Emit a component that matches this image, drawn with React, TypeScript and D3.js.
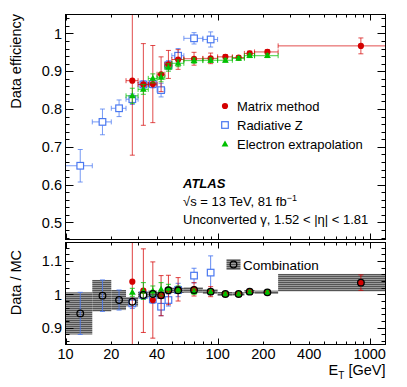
import React from "react";
import * as d3 from "d3";

// ET bins [GeV]
const binLo = [10, 15, 20, 25, 30, 35, 40, 45, 50, 60, 80, 100, 125, 150, 175, 250];
const binHi = [15, 20, 25, 30, 35, 40, 45, 50, 60, 80, 100, 125, 150, 175, 250, 1500];

// Top panel: data efficiency
// Matrix method: bins 3..15
const mmFirst = 3;
const mmEff = [0.875, 0.865, 0.866, 0.892, 0.918, 0.931, 0.933, 0.934, 0.938, 0.936, 0.947, 0.951, 0.967];
const mmErr = [0.197, 0.108, 0.102, 0.046, 0.037, 0.026, 0.017, 0.014, 0.006, 0.005, 0.006, 0.006, 0.021];
// Radiative Z: bins 0..10
const rzFirst = 0;
const rzEff = [0.650, 0.766, 0.802, 0.826, 0.865, 0.866, 0.850, 0.916, 0.941, 0.987, 0.984];
const rzErr = [0.043, 0.034, 0.022, 0.014, 0.010, 0.010, 0.018, 0.012, 0.019, 0.015, 0.020];
// Electron extrapolation: bins 3..14
const eeFirst = 3;
const eeEff = [0.835, 0.852, 0.881, 0.884, 0.910, 0.921, 0.928, 0.929, 0.929, 0.934, 0.941, 0.941];
const eeErr = [0.020, 0.013, 0.012, 0.012, 0.010, 0.009, 0.007, 0.006, 0.005, 0.005, 0.005, 0.005];

// Bottom panel: Data / MC
const combR = [0.943, 0.996, 0.983, 0.978, 0.998, 1.001, 0.997, 1.012, 1.012, 1.013, 1.008, 1.001, 1.001, 1.008, 1.006, 1.035];
const combErr = [0.063, 0.047, 0.030, 0.014, 0.010, 0.010, 0.010, 0.009, 0.008, 0.008, 0.007, 0.006, 0.005, 0.005, 0.005, 0.026];
const mmR = [1.038, 1.011, 0.983, 0.996, 1.013, 1.015, 1.015, 1.008, 1.001, 1.001, 1.008, 1.006, 1.035];
const mmRErr = [0.25, 0.125, 0.114, 0.06, 0.044, 0.035, 0.02, 0.015, 0.007, 0.006, 0.006, 0.006, 0.023];
const rzR = [0.943, 0.996, 0.983, 0.973, 0.998, 0.985, 0.963, 0.983, 1.013, 1.056, 1.065];
const rzRErr = [0.063, 0.047, 0.030, 0.015, 0.012, 0.012, 0.027, 0.018, 0.020, 0.022, 0.050];
const rzRMarkerFrom = 3; // below this only the combination marker is shown
const eeR = [1.006, 1.010, 1.010, 1.015, 1.018, 1.015, 1.008, 1.008, 1.001, 1.001, 1.006, 1.006];
const eeRErr = [0.012, 0.025, 0.015, 0.020, 0.012, 0.010, 0.008, 0.007, 0.006, 0.006, 0.006, 0.006];

const xLabelTicks = [10, 20, 40, 100, 200, 400, 1000];
const yTopLabels = [0.5, 0.6, 0.7, 0.8, 0.9, 1];
const yBotLabels = [0.9, 1, 1.1];

const RED = "#d40000";
const BLUE = "#4a78f0";
const GREEN = "#00c000";
const FONT = "'Liberation Sans', Arial, Helvetica, sans-serif";

const L = 65.5, R = 385.5;
const T1 = 14.5, B1 = 239.5, T2 = 242.5, B2 = 344.5;

const x = d3.scaleLog().domain([10, 1270]).range([L, R]);
const y1 = d3.scaleLinear().domain([0.455, 1.05]).range([B1, T1]);
const y2 = d3.scaleLinear().domain([0.85, 1.155]).range([B2, T2]);

const center = (i: number) => (binLo[i] + binHi[i]) / 2;

function ErrBar({ i, v, e, y, color, xerr, cap = 2.5, sw = 1, op = 0.8 }: any) {
  const cx = x(center(i));
  const cy = y(v);
  const ya = y(v + e), yb = y(v - e);
  const x0 = x(binLo[i]), x1 = x(binHi[i]);
  return (
    <g stroke={color} strokeWidth={sw} fill="none" strokeOpacity={op}>
      <line x1={cx} x2={cx} y1={ya} y2={yb} />
      <line x1={cx - cap} x2={cx + cap} y1={ya} y2={ya} />
      <line x1={cx - cap} x2={cx + cap} y1={yb} y2={yb} />
      {xerr && (
        <>
          <line x1={x0} x2={x1} y1={cy} y2={cy} />
          <line x1={x0} x2={x0} y1={cy - cap} y2={cy + cap} />
          <line x1={x1} x2={x1} y1={cy - cap} y2={cy + cap} />
        </>
      )}
    </g>
  );
}

const Circle = ({ cx, cy }: any) => <circle cx={cx} cy={cy} r={3.1} fill={RED} />;
const Square = ({ cx, cy }: any) => (
  <rect x={cx - 3.3} y={cy - 3.3} width={6.6} height={6.6} fill="white" stroke={BLUE} strokeWidth={1.2} />
);
const Tri = ({ cx, cy }: any) => (
  <path d={`M${cx},${cy - 3.6}L${cx + 3.4},${cy + 2.4}L${cx - 3.4},${cy + 2.4}Z`} fill={GREEN} />
);

function XTicks({ top, bottom }: any) {
  const ticks: number[] = [];
  for (const d of [10, 100, 1000]) for (let k = 1; k <= 9; k++) if (d * k <= 1270) ticks.push(d * k);
  return (
    <g stroke="#000" strokeWidth={1}>
      {ticks.map((t) => {
        const len = [10, 100, 1000].includes(t) ? 6 : 3;
        const px = Math.round(x(t)) + 0.5;
        return (
          <g key={t}>
            <line x1={px} x2={px} y1={bottom} y2={bottom - len} />
            <line x1={px} x2={px} y1={top} y2={top + len} />
          </g>
        );
      })}
    </g>
  );
}

function YTicks({ y, lo, hi }: any) {
  const ticks: number[] = [];
  for (let k = Math.round(lo * 50); k <= Math.round(hi * 50); k++) ticks.push(k / 50);
  return (
    <g stroke="#000" strokeWidth={1}>
      {ticks.map((t) => {
        const major = Math.abs(t * 10 - Math.round(t * 10)) < 1e-6;
        const len = major ? 8 : 4;
        const py = Math.round(y(t)) + 0.5;
        return (
          <g key={t}>
            <line x1={L} x2={L + len} y1={py} y2={py} />
            <line x1={R} x2={R - len} y1={py} y2={py} />
          </g>
        );
      })}
    </g>
  );
}

export default function App() {
  return (
    <svg width={407} height={387} style={{ position: "absolute", left: 0, top: 0, background: "white" }}
      fontFamily={FONT}>
      <defs>
        <clipPath id="c1"><rect x={L} y={T1} width={R - L} height={B1 - T1} /></clipPath>
        <clipPath id="c2"><rect x={L} y={T2} width={R - L} height={B2 - T2} /></clipPath>
        <pattern id="hatch" width={4} height={2} patternUnits="userSpaceOnUse">
          <rect width={4} height={2} fill="#9a9a9a" />
          <rect width={4} height={1} fill="#555555" />
        </pattern>
      </defs>
      <rect x={0} y={0} width={407} height={387} fill="white" />

      {/* ===== Top panel ===== */}
      <g clipPath="url(#c1)">
        {rzEff.map((v, k) => (
          <ErrBar key={"rze" + k} i={rzFirst + k} v={v} e={rzErr[k]} y={y1} color={BLUE} xerr op={0.75} />
        ))}
        {rzEff.map((v, k) => (
          <Square key={"rzm" + k} cx={x(center(rzFirst + k))} cy={y1(v)} />
        ))}
        {mmEff.map((v, k) => (
          <ErrBar key={"mme" + k} i={mmFirst + k} v={v} e={mmErr[k]} y={y1} color={RED} xerr op={0.7} />
        ))}
        {mmEff.map((v, k) => (
          <Circle key={"mmm" + k} cx={x(center(mmFirst + k))} cy={y1(v)} />
        ))}
        {eeEff.map((v, k) => (
          <ErrBar key={"eee" + k} i={eeFirst + k} v={v} e={eeErr[k]} y={y1} color={GREEN} xerr op={0.75} />
        ))}
        {eeEff.map((v, k) => (
          <Tri key={"eem" + k} cx={x(center(eeFirst + k))} cy={y1(v)} />
        ))}
      </g>
      <XTicks top={T1} bottom={B1} />
      <YTicks y={y1} lo={0.46} hi={1.04} />
      <rect x={L} y={T1} width={R - L} height={B1 - T1} fill="none" stroke="#000" strokeWidth={1} />
      {yTopLabels.map((t) => (
        <text key={t} x={62} y={y1(t)} dy="0.36em" textAnchor="end" fontSize={14.5}>{String(t)}</text>
      ))}
      <text transform={`translate(21,14) rotate(-90)`} textAnchor="end" fontSize={14.5}>Data efficiency</text>

      {/* legend */}
      <Circle cx={225} cy={106} />
      <text x={237} y={110.5} fontSize={13}>Matrix method</text>
      <Square cx={225} cy={125} />
      <text x={237} y={129.5} fontSize={13}>Radiative Z</text>
      <Tri cx={225} cy={144} />
      <text x={237} y={148.5} fontSize={13}>Electron extrapolation</text>

      <text x={183} y={188} fontSize={13} fontWeight="bold" fontStyle="italic">ATLAS</text>
      <text x={183} y={206} fontSize={13}>
        √s = 13 TeV, 81 fb<tspan dy={-5} fontSize={9}>−1</tspan>
      </text>
      <text x={183} y={224} fontSize={13}>Unconverted γ, 1.52 &lt; |η| &lt; 1.81</text>

      {/* ===== Bottom panel ===== */}
      <g clipPath="url(#c2)">
        {combR.map((v, i) => (
          <rect key={"cb" + i} x={x(binLo[i])} width={x(binHi[i]) - x(binLo[i])}
            y={y2(v + combErr[i])} height={y2(v - combErr[i]) - y2(v + combErr[i])} fill="url(#hatch)" />
        ))}
        {rzR.map((v, k) => (
          <ErrBar key={"rre" + k} i={rzFirst + k} v={v} e={rzRErr[k]} y={y2} color={BLUE} op={0.85} />
        ))}
        {rzR.map((v, k) => rzFirst + k >= rzRMarkerFrom ? (
          <Square key={"rrm" + k} cx={x(center(rzFirst + k))} cy={y2(v)} />
        ) : null)}
        {mmR.map((v, k) => (
          <ErrBar key={"mre" + k} i={mmFirst + k} v={v} e={mmRErr[k]} y={y2} color={RED} op={0.75} />
        ))}
        {mmR.map((v, k) => (
          <Circle key={"mrm" + k} cx={x(center(mmFirst + k))} cy={y2(v)} />
        ))}
        {eeR.map((v, k) => (
          <ErrBar key={"ere" + k} i={eeFirst + k} v={v} e={eeRErr[k]} y={y2} color={GREEN} op={0.8} />
        ))}
        {eeR.map((v, k) => (
          <Tri key={"erm" + k} cx={x(center(eeFirst + k))} cy={y2(v)} />
        ))}
        {combR.map((v, i) => (
          <circle key={"cm" + i} cx={x(center(i))} cy={y2(v)} r={3.3} fill="none" stroke="#000" strokeWidth={1.3} />
        ))}
      </g>
      <XTicks top={T2} bottom={B2} />
      <YTicks y={y2} lo={0.86} hi={1.14} />
      <rect x={L} y={T2} width={R - L} height={B2 - T2} fill="none" stroke="#000" strokeWidth={1} />
      {yBotLabels.map((t) => (
        <text key={t} x={62} y={y2(t)} dy="0.36em" textAnchor="end" fontSize={14.5}>{String(t)}</text>
      ))}
      <text transform={`translate(21,250) rotate(-90)`} textAnchor="end" fontSize={14.5}>Data / MC</text>

      {/* combination legend */}
      <rect x={226.5} y={259} width={14} height={11} fill="url(#hatch)" />
      <circle cx={233.5} cy={264.5} r={3.3} fill="none" stroke="#000" strokeWidth={1.3} />
      <text x={243} y={269.5} fontSize={13.5}>Combination</text>

      {/* x labels */}
      {xLabelTicks.map((t) => (
        <text key={t} x={x(t)} y={358.5} textAnchor="middle" fontSize={14.5}>{String(t)}</text>
      ))}
      <text x={R} y={375} textAnchor="end" fontSize={14.5}>
        E<tspan dy={3.5} fontSize={10}>T</tspan><tspan dy={-3.5}> [GeV]</tspan>
      </text>
    </svg>
  );
}
